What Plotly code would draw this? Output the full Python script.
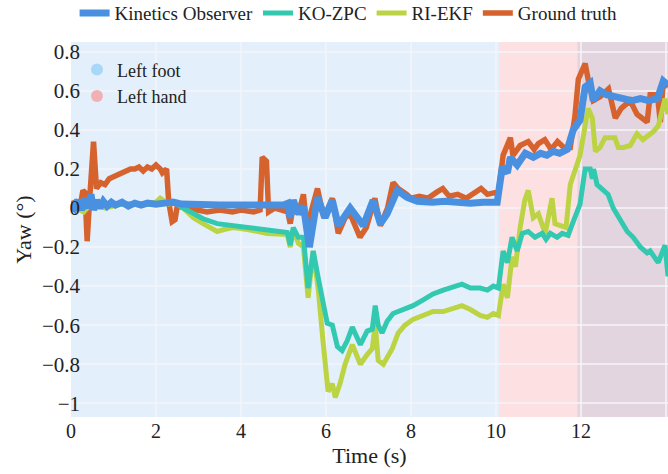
import plotly.graph_objects as go

# ---------------- data ----------------
ko_t = [0.0, 0.08, 0.16, 0.24, 0.32, 0.4, 0.47, 0.53, 0.6, 0.68, 0.76, 0.85, 0.95, 1.05, 1.2, 1.35, 1.5, 1.65, 1.8, 2.0, 2.2, 2.4, 2.6, 3.0, 3.5, 4.0, 4.5, 5.0,
        5.1, 5.16, 5.23, 5.35, 5.47, 5.61, 5.8, 5.98, 6.15, 6.29, 6.57, 6.88, 7.11, 7.28, 7.44, 7.68, 7.91, 8.15,
        8.5, 8.8, 9.1, 9.4, 9.7, 9.9, 10.03, 10.15, 10.27, 10.34, 10.5, 10.69, 10.88, 11.05, 11.2, 11.35, 11.5, 11.68,
        11.82, 11.98, 12.1, 12.22, 12.29, 12.45, 12.6, 12.8, 13.0, 13.2, 13.4, 13.6, 13.8, 13.94, 14.05]
ko_y = [0.02, 0.0, 0.04, -0.01, 0.05, 0.0, 0.07, -0.01, 0.04, 0.0, 0.035, 0.01, 0.03, 0.015, 0.03, 0.01, 0.025, 0.015, 0.025, 0.02, 0.025, 0.03, 0.02, 0.015, 0.015, 0.015, 0.015, 0.015,
        0.024, -0.05, 0.04, -0.03, 0.01, -0.2, 0.055, -0.05, 0.04, -0.09, 0.0, -0.09, 0.04, -0.08, -0.03, 0.09, 0.055, 0.035,
        0.03, 0.035, 0.03, 0.025, 0.03, 0.025, 0.03, 0.21, 0.18, 0.26, 0.22, 0.28, 0.26, 0.28, 0.27, 0.29, 0.28, 0.3,
        0.4, 0.45, 0.62, 0.64, 0.55, 0.6, 0.58, 0.57, 0.56, 0.55, 0.56, 0.55, 0.56, 0.65, 0.63]

zpc_t = [0.0, 0.3, 0.5, 0.8, 1.2, 1.6, 2.0, 2.3, 2.5, 2.64, 2.88, 3.11, 3.44, 3.82, 4.15, 4.62, 5.09, 5.16, 5.23, 5.35, 5.47,
         5.58, 5.7, 5.82, 6.03, 6.15, 6.27, 6.38, 6.5, 6.62, 6.81, 6.97, 7.09, 7.16, 7.23, 7.32, 7.44, 7.58, 7.82, 8.05,
         8.29, 8.52, 8.76, 9.0, 9.2, 9.4, 9.63, 9.8, 9.94, 10.06, 10.17, 10.27, 10.38, 10.5, 10.62, 10.76, 10.92, 11.09,
         11.18, 11.28, 11.44, 11.56, 11.7, 11.82, 11.94, 11.98, 12.1, 12.22, 12.27, 12.3, 12.38, 12.52, 12.64, 12.76,
         12.92, 13.09, 13.23, 13.4, 13.56, 13.63, 13.82, 13.98, 14.05]
zpc_y = [0.02, 0.0, 0.03, 0.01, 0.02, 0.02, 0.02, 0.03, 0.02, 0.0, -0.03, -0.055, -0.08, -0.09, -0.1, -0.115, -0.125, -0.19, -0.1, -0.15, -0.15,
         -0.41, -0.22, -0.36, -0.59, -0.6, -0.71, -0.73, -0.68, -0.61, -0.7, -0.63, -0.62, -0.5, -0.6, -0.64, -0.58, -0.54, -0.52, -0.5,
         -0.47, -0.44, -0.42, -0.4, -0.39, -0.41, -0.41, -0.42, -0.4, -0.41, -0.22, -0.28, -0.15, -0.22, -0.13, -0.12, -0.15, -0.13,
         -0.16, -0.13, -0.15, -0.13, -0.14, -0.07, 0.0, 0.02, 0.2, 0.2, 0.15, 0.2, 0.12, 0.09, 0.07, 0.0,
         -0.06, -0.12, -0.15, -0.2, -0.23, -0.22, -0.28, -0.19, -0.35]

ri_t = [0.0, 0.3, 0.5, 0.8, 1.2, 1.6, 2.0, 2.1, 2.3, 2.5, 2.64, 2.88, 3.11, 3.44, 3.6, 3.82, 4.15, 4.62, 5.09, 5.16, 5.23, 5.35, 5.47,
        5.58, 5.7, 5.82, 5.93, 6.05, 6.15, 6.22, 6.33, 6.45, 6.62, 6.81, 6.97, 7.09, 7.16, 7.23, 7.35, 7.44, 7.56, 7.7, 7.86, 8.05,
        8.29, 8.52, 8.76, 9.0, 9.2, 9.4, 9.63, 9.8, 9.94, 10.06, 10.17, 10.27, 10.38, 10.46, 10.57, 10.68, 10.76, 10.88, 11.0,
        11.16, 11.32, 11.39, 11.5, 11.65, 11.75, 11.98, 12.17, 12.27, 12.34, 12.45, 12.57, 12.8, 12.88, 13.0, 13.16, 13.32,
        13.46, 13.7, 13.82, 13.98, 14.05]
ri_y = [0.01, -0.02, 0.03, 0.0, 0.02, 0.02, 0.03, 0.05, 0.02, 0.03, 0.0, -0.05, -0.08, -0.12, -0.11, -0.1, -0.11, -0.13, -0.135, -0.2, -0.11, -0.18, -0.2,
        -0.46, -0.22, -0.42, -0.68, -0.94, -0.9, -0.97, -0.9, -0.8, -0.7, -0.8, -0.75, -0.72, -0.6, -0.78, -0.8, -0.76, -0.72, -0.64, -0.6, -0.57,
        -0.55, -0.53, -0.53, -0.51, -0.5, -0.52, -0.55, -0.56, -0.54, -0.55, -0.39, -0.46, -0.25, -0.3, -0.1, 0.04, 0.09, -0.05, -0.03,
        -0.13, 0.05, -0.08, -0.09, -0.1, 0.12, 0.27, 0.51, 0.46, 0.29, 0.31, 0.36, 0.36, 0.31, 0.31, 0.32, 0.38,
        0.35, 0.39, 0.42, 0.56, 0.48]

gt_t = [0.0, 0.1, 0.2, 0.28, 0.33, 0.38, 0.44, 0.53, 0.6, 0.7, 0.8, 0.9, 1.0, 1.1, 1.2, 1.3, 1.4, 1.5, 1.6, 1.7, 1.8, 1.9, 2.0, 2.1, 2.15, 2.25,
        2.3, 2.38, 2.45, 2.5, 2.7, 3.0, 3.2, 3.5, 3.8, 4.0, 4.3, 4.45, 4.5, 4.6, 4.65, 4.8, 5.0, 5.1, 5.16, 5.23, 5.35, 5.47, 5.55,
        5.8, 5.95, 6.15, 6.29, 6.45, 6.57, 6.8, 6.95, 7.15, 7.28, 7.45, 7.58, 7.7, 7.9, 8.0, 8.2, 8.4, 8.6, 8.75, 8.9, 9.1, 9.3,
        9.5, 9.65, 9.8, 10.0, 10.05, 10.17, 10.34, 10.4, 10.57, 10.76, 10.9, 11.0, 11.15, 11.3, 11.45, 11.6, 11.75, 11.86, 11.94,
        12.1, 12.17, 12.29, 12.45, 12.65, 12.81, 12.95, 13.16, 13.32, 13.56, 13.63, 13.8, 13.87, 13.94, 14.05]
gt_y = [0.02, 0.03, -0.01, 0.09, 0.08, -0.17, 0.05, 0.34, 0.1, 0.13, 0.12, 0.15, 0.16, 0.17, 0.18, 0.19, 0.2, 0.2, 0.21, 0.19, 0.21, 0.2, 0.22, 0.2, 0.18, 0.2,
        0.03, -0.07, -0.06, 0.01, 0.0, -0.01, -0.02, -0.01, -0.02, -0.01, -0.02, -0.01, 0.26, 0.24, -0.02, 0.0, -0.01, -0.02, -0.08, 0.01, -0.03, 0.07, -0.1,
        0.1, -0.05, 0.05, -0.13, -0.05, -0.03, -0.15, -0.1, 0.05, -0.09, 0.0, 0.13, 0.1, 0.07, 0.05, 0.06, 0.05, 0.08, 0.1, 0.06, 0.07, 0.05,
        0.08, 0.1, 0.07, 0.08, 0.06, 0.27, 0.36, 0.27, 0.32, 0.34, 0.3, 0.33, 0.35, 0.3, 0.34, 0.31, 0.31, 0.47, 0.66,
        0.74, 0.66, 0.55, 0.57, 0.61, 0.46, 0.51, 0.55, 0.48, 0.44, 0.58, 0.58, 0.44, 0.65, 0.62]

x_ticks = [0, 2, 4, 6, 8, 10, 12, 14]
x_ticklabels = ["0", "2", "4", "6", "8", "10", "12", ""]

# contact phases (s)
foot_phases = [(0.0, 10.08), (11.92, 14.05)]
hand_phases = [(10.08, 14.05)]

FONT = "Liberation Serif, Times New Roman, serif"

fig = go.Figure()

fig.add_trace(go.Scatter(x=gt_t, y=gt_y, mode="lines", name="Ground truth",
                         line=dict(color="#d6632e", width=5.5), legendrank=4))
fig.add_trace(go.Scatter(x=ri_t, y=ri_y, mode="lines", name="RI-EKF",
                         line=dict(color="#bcd444", width=5), legendrank=3))
fig.add_trace(go.Scatter(x=zpc_t, y=zpc_y, mode="lines", name="KO-ZPC",
                         line=dict(color="#33c9b0", width=5), legendrank=2))
fig.add_trace(go.Scatter(x=ko_t, y=ko_y, mode="lines", name="Kinetics Observer",
                         line=dict(color="#4a90e0", width=7), legendrank=1))

fig.add_trace(go.Scatter(x=[None], y=[None], mode="markers", name="Left foot",
                         marker=dict(color="#a8d8f8", size=12), legend="legend2"))
fig.add_trace(go.Scatter(x=[None], y=[None], mode="markers", name="Left hand",
                         marker=dict(color="#f0b0b4", size=12), legend="legend2"))

# shaded contact regions
fig.add_shape(type="rect", xref="x", yref="paper", x0=0.0, x1=14.05, y0=0, y1=1,
              fillcolor="#e3f0fb", line_width=0, layer="below")
for a, b in hand_phases:
    fig.add_shape(type="rect", xref="x", yref="paper", x0=a, x1=b, y0=0, y1=1,
                  fillcolor="#fde0e1", line_width=0, layer="below")
fig.add_shape(type="rect", xref="x", yref="paper", x0=foot_phases[1][0], x1=foot_phases[1][1], y0=0, y1=1,
              fillcolor="#e3d5df", line_width=0, layer="below")

fig.update_layout(
    width=668, height=474,
    margin=dict(l=71, r=0, t=42, b=57, autoexpand=False),
    paper_bgcolor="white", plot_bgcolor="white",
    font=dict(family=FONT, color="#222222"),
    showlegend=True,
    legend=dict(orientation="h", x=0.465, xanchor="center", y=1.077, yanchor="middle",
                font=dict(size=19, family=FONT), bgcolor="rgba(0,0,0,0)",
                itemwidth=30, tracegroupgap=0),
    legend2=dict(x=0.01, xanchor="left", y=0.975, yanchor="top",
                 font=dict(size=18, family=FONT), bgcolor="rgba(0,0,0,0)"),
    xaxis=dict(range=[0, 14.05], tickvals=x_ticks, ticktext=x_ticklabels,
               showgrid=True, gridcolor="rgba(246,244,250,0.75)", gridwidth=1.5,
               zeroline=False, showline=False, ticks="",
               tickfont=dict(size=20, family=FONT),
               title=dict(text="Time (s)", font=dict(size=22, family=FONT), standoff=6)),
    yaxis=dict(range=[-1.07, 0.85], dtick=0.2, tick0=0,
               showgrid=True, gridcolor="rgba(246,244,250,0.75)", gridwidth=1.5,
               zeroline=False, showline=False, ticks="", ticklabelstandoff=-10,
               tickfont=dict(size=21, family=FONT),
               title=dict(text="Yaw (°)", font=dict(size=22, family=FONT), standoff=4)),
)

fig.write_html("out.html")
